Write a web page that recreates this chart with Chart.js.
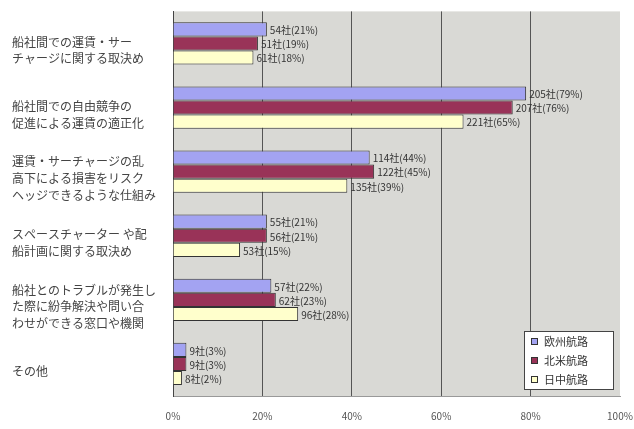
<!DOCTYPE html>
<html>
<head>
<meta charset="utf-8">
<script src="https://cdn.jsdelivr.net/npm/chart.js@4/dist/chart.umd.min.js"></script>
<style>
  html, body { margin: 0; padding: 0; background: #fff; }
  #wrap { width: 634px; height: 429px; }
</style>
</head>
<body>
<div id="wrap"><canvas id="myChart" width="634" height="429"></canvas></div>
<script>
/****************************************************/
/*****************data*******************************/
/****************************************************/
let categories = [
  ['船社間での運賃・サー', 'チャージに関する取決め'],
  ['船社間での自由競争の', '促進による運賃の適正化'],
  ['運賃・サーチャージの乱', '高下による損害をリスク', 'ヘッジできるような仕組み'],
  ['スペースチャーター や配', '船計画に関する取決め'],
  ['船社とのトラブルが発生し', 'た際に紛争解決や問い合', 'わせができる窓口や機関'],
  ['その他']
];
let seriesNames = ['欧州航路', '北米航路', '日中航路'];
let europePct = [21, 79, 44, 21, 22, 3];
let europeCount = [54, 205, 114, 55, 57, 9];
let usPct = [19, 76, 45, 21, 23, 3];
let usCount = [51, 207, 122, 56, 62, 9];
let chinaPct = [18, 65, 39, 15, 28, 2];
let chinaCount = [61, 221, 135, 53, 96, 8];
let xTicks = [0, 20, 40, 60, 80, 100];

let colors = ['#a3a3f2', '#993358', '#ffffcc'];
let counts = [europeCount, usCount, chinaCount];
let jpFont = '"Noto Sans CJK JP", "Noto Sans", sans-serif';

/****************************************************/
/*****************plugins****************************/
/****************************************************/
let plotBg = {
  id: 'plotBg',
  beforeDraw(chart) {
    let a = chart.chartArea;
    let ctx = chart.ctx;
    ctx.save();
    ctx.fillStyle = '#d9d9d5';
    ctx.fillRect(a.left, a.top, a.right - a.left, a.bottom - a.top);
    ctx.restore();
  }
};

let barLabels = {
  id: 'barLabels',
  afterDatasetsDraw(chart) {
    let ctx = chart.ctx;
    ctx.save();
    ctx.font = '10px ' + jpFont;
    ctx.fillStyle = '#333';
    ctx.textBaseline = 'middle';
    ctx.textAlign = 'left';
    chart.data.datasets.forEach((ds, d) => {
      let meta = chart.getDatasetMeta(d);
      meta.data.forEach((bar, i) => {
        let txt = counts[d][i] + '社(' + ds.data[i] + '%)';
        ctx.fillText(txt, bar.x + 3, bar.y + 1);
      });
    });
    ctx.restore();
  }
};

let boxLegend = {
  id: 'boxLegend',
  afterDraw(chart) {
    let ctx = chart.ctx;
    let x = 524, y = 331, w = 89, h = 58;
    ctx.save();
    ctx.fillStyle = '#fff';
    ctx.fillRect(x, y, w, h);
    ctx.strokeStyle = '#444';
    ctx.lineWidth = 1;
    ctx.strokeRect(x + 0.5, y + 0.5, w, h);
    ctx.font = '11px ' + jpFont;
    ctx.textBaseline = 'middle';
    chart.data.datasets.forEach((ds, d) => {
      let ry = y + 10 + d * 19;
      ctx.fillStyle = ds.backgroundColor;
      ctx.fillRect(x + 7, ry - 3, 7, 7);
      ctx.strokeStyle = '#333';
      ctx.strokeRect(x + 7.5, ry - 2.5, 6, 6);
      ctx.fillStyle = '#333';
      ctx.fillText(ds.label, x + 20, ry + 1);
    });
    ctx.restore();
  }
};

/****************************************************/
/*****************chart******************************/
/****************************************************/
let ctx = document.getElementById('myChart').getContext('2d');
let myChart = new Chart(ctx, {
  type: 'bar',
  data: {
    labels: categories,
    datasets: [
      { label: seriesNames[0], data: europePct, backgroundColor: colors[0], borderColor: '#333', borderWidth: 1 },
      { label: seriesNames[1], data: usPct, backgroundColor: colors[1], borderColor: '#333', borderWidth: 1 },
      { label: seriesNames[2], data: chinaPct, backgroundColor: colors[2], borderColor: '#333', borderWidth: 1 }
    ]
  },
  options: {
    indexAxis: 'y',
    responsive: false,
    animation: false,
    layout: { padding: { top: 8, left: 12, right: 0, bottom: 0 } },
    datasets: {
      bar: { categoryPercentage: 0.66, barPercentage: 1.0 }
    },
    plugins: {
      legend: { display: false },
      tooltip: { enabled: false }
    },
    scales: {
      x: {
        min: 0,
        max: 100,
        afterBuildTicks: (s) => { s.ticks = xTicks.map(v => ({ value: v })); },
        afterFit: (s) => { s.height = 33; s.paddingRight = 14; },
        ticks: {
          callback: (v) => v + '%',
          color: '#555',
          font: { size: 10, family: jpFont },
          padding: 14
        },
        grid: {
          drawTicks: false,
          color: (c) => (c.tick && (c.tick.value === 0 || c.tick.value === 100)) ? 'rgba(0,0,0,0)' : '#555'
        },
        border: { color: '#999' }
      },
      y: {
        afterFit: (s) => { s.width = 161; },
        ticks: {
          crossAlign: 'far',
          color: '#444',
          labelOffset: 7,
          font: { size: 12, family: jpFont, lineHeight: 1.4 }
        },
        grid: { display: false },
        border: { color: '#444' }
      }
    }
  },
  plugins: [plotBg, barLabels, boxLegend]
});
</script>
</body>
</html>
